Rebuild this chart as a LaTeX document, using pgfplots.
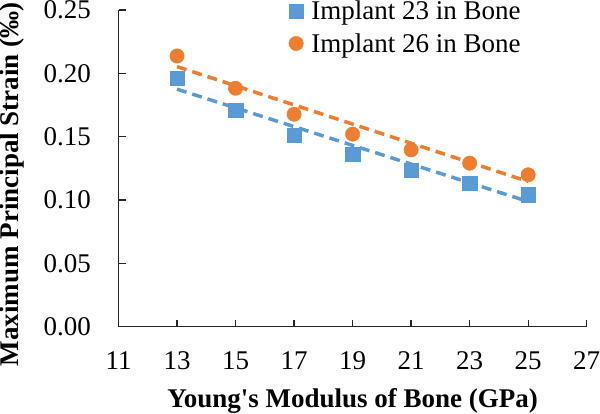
\documentclass[border=0pt]{standalone}
\usepackage{fontspec}
\defaultfontfeatures[\rmfamily]{}
\setmainfont{Liberation Serif}
\usepackage{pgfplots}
\pgfplotsset{compat=1.18}
\definecolor{xlblue}{HTML}{5B9BD5}
\definecolor{xlorange}{HTML}{ED7D31}
\begin{document}
\begin{tikzpicture}
\useasboundingbox (0,0) rectangle (600pt,414pt);
\begin{axis}[
  at={(118.5pt,87.3pt)}, anchor=south west,
  scale only axis, width=468.2pt, height=316.7pt,
  xmin=11, xmax=27, ymin=0, ymax=0.25,
  xtick={11,13,...,27},
  ytick={0,0.05,...,0.25},
  axis lines=left,
  axis line style={black!85, line width=1.3pt, -},
  tick align=inside,
  major tick length=7pt,
  tick style={black!85, line width=1.3pt},
  font=\fontsize{27}{32}\selectfont,
  /pgf/number format/assume math mode=true,
  yticklabel style={/pgf/number format/fixed, /pgf/number format/fixed zerofill, /pgf/number format/precision=2, xshift=-24pt},
  xticklabel style={yshift=-21pt},
  scaled y ticks=false,
  xlabel={\bfseries Young\symbol{"0027}s Modulus of Bone (GPa)},
  ylabel={\bfseries Maximum Principal Strain (‰)},
  xlabel style={at={(axis description cs:0.5,-0.255)}, anchor=base},
  ylabel style={at={(axis description cs:-0.2276,0.45)}, anchor=center},
  clip=false,
  legend style={draw=none, fill=none, at={(axis description cs:0.3636,1.035)}, anchor=north west,
    inner sep=0pt, row sep=8pt, font=\fontsize{27}{32}\selectfont},
  legend cell align=left,
  legend image code/.code={\draw[#1] plot coordinates {(0.3cm,0cm)}; \path (0.3cm+13pt,0cm);},
]
\addplot[xlblue, line width=3.5pt, dash pattern=on 10pt off 6pt, forget plot] coordinates {(13,0.1875) (25,0.0988)};
\addplot[xlorange, line width=3.5pt, dash pattern=on 10pt off 6pt, forget plot] coordinates {(13,0.2053) (25,0.1146)};
\addplot[only marks, mark=square*, mark size=7.2pt, xlblue, mark options={draw=xlblue, fill=xlblue}] coordinates {
(13,0.1961) (15,0.1711) (17,0.1514) (19,0.1364) (21,0.1233) (23,0.1133) (25,0.1042)};
\addlegendentry{Implant 23 in Bone}
\addplot[only marks, mark=*, mark size=7.2pt, xlorange, mark options={draw=xlorange, fill=xlorange}] coordinates {
(13,0.2137) (15,0.1882) (17,0.1677) (19,0.1520) (21,0.1396) (23,0.1291) (25,0.1199)};
\addlegendentry{Implant 26 in Bone}
\end{axis}
\end{tikzpicture}
\end{document}
